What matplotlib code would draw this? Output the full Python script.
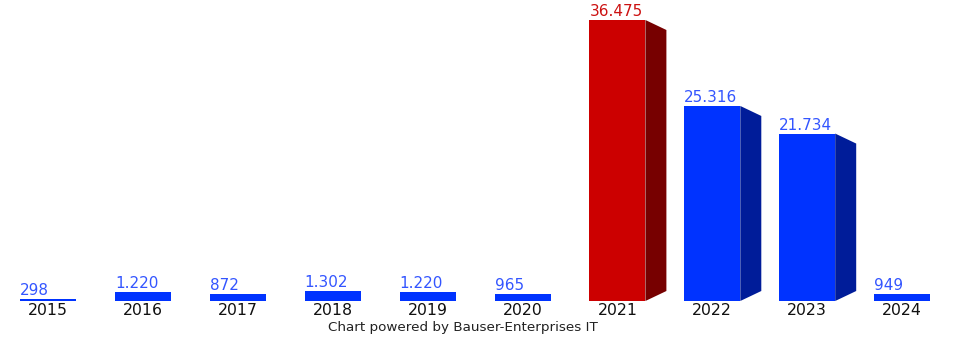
import matplotlib.pyplot as plt
from matplotlib.patches import Polygon

years = ['2015', '2016', '2017', '2018', '2019', '2020', '2021', '2022', '2023', '2024']
values = [298, 1220, 872, 1302, 1220, 965, 36475, 25316, 21734, 949]
labels = ['298', '1.220', '872', '1.302', '1.220', '965', '36.475', '25.316', '21.734', '949']
highlight = '2021'

plt.rcParams['font.family'] = ['DejaVu Sans']

fig = plt.figure(figsize=(9.7, 3.4), dpi=100)
ax = fig.add_axes([0, 0, 1, 1])
ax.set_axis_off()

# pixel-ish scale: 94.9 px per category, ~129.8 units per px
px_x = 1 / 94.9
px_y = 129.8
ax.set_xlim(-48 * px_x, (970 - 48) * px_x)
ax.set_ylim(-39 * px_y, 301 * px_y)

width = 56 * px_x
dx = 21 * px_x
dy = 10 * px_y

for i, (yr, v, lab) in enumerate(zip(years, values, labels)):
    if yr == highlight:
        front, side, tcol = '#cc0000', '#770000', '#cc1111'
    else:
        front, side, tcol = '#0033ff', '#001c99', '#3355ff'
    left = i - width / 2
    ax.bar(i, v, width=width, color=front, linewidth=0)
    if v > 2 * dy:
        right = left + width
        ax.add_patch(Polygon([(right, v), (right + dx, v - dy),
                              (right + dx, dy), (right, 0)],
                             closed=True, facecolor=side, edgecolor='none'))
    ax.text(left, v + 1 * px_y, lab, ha='left', va='bottom', color=tcol, fontsize=11)
    ax.text(i, -2 * px_y, yr, ha='center', va='top', color='#111111', fontsize=11.3)

fig.text(463 / 970, 1 - 327 / 340, 'Chart powered by Bauser-Enterprises IT',
         ha='center', va='center', fontsize=9.7, color='#222222')

fig.savefig('out.png', dpi=100)
